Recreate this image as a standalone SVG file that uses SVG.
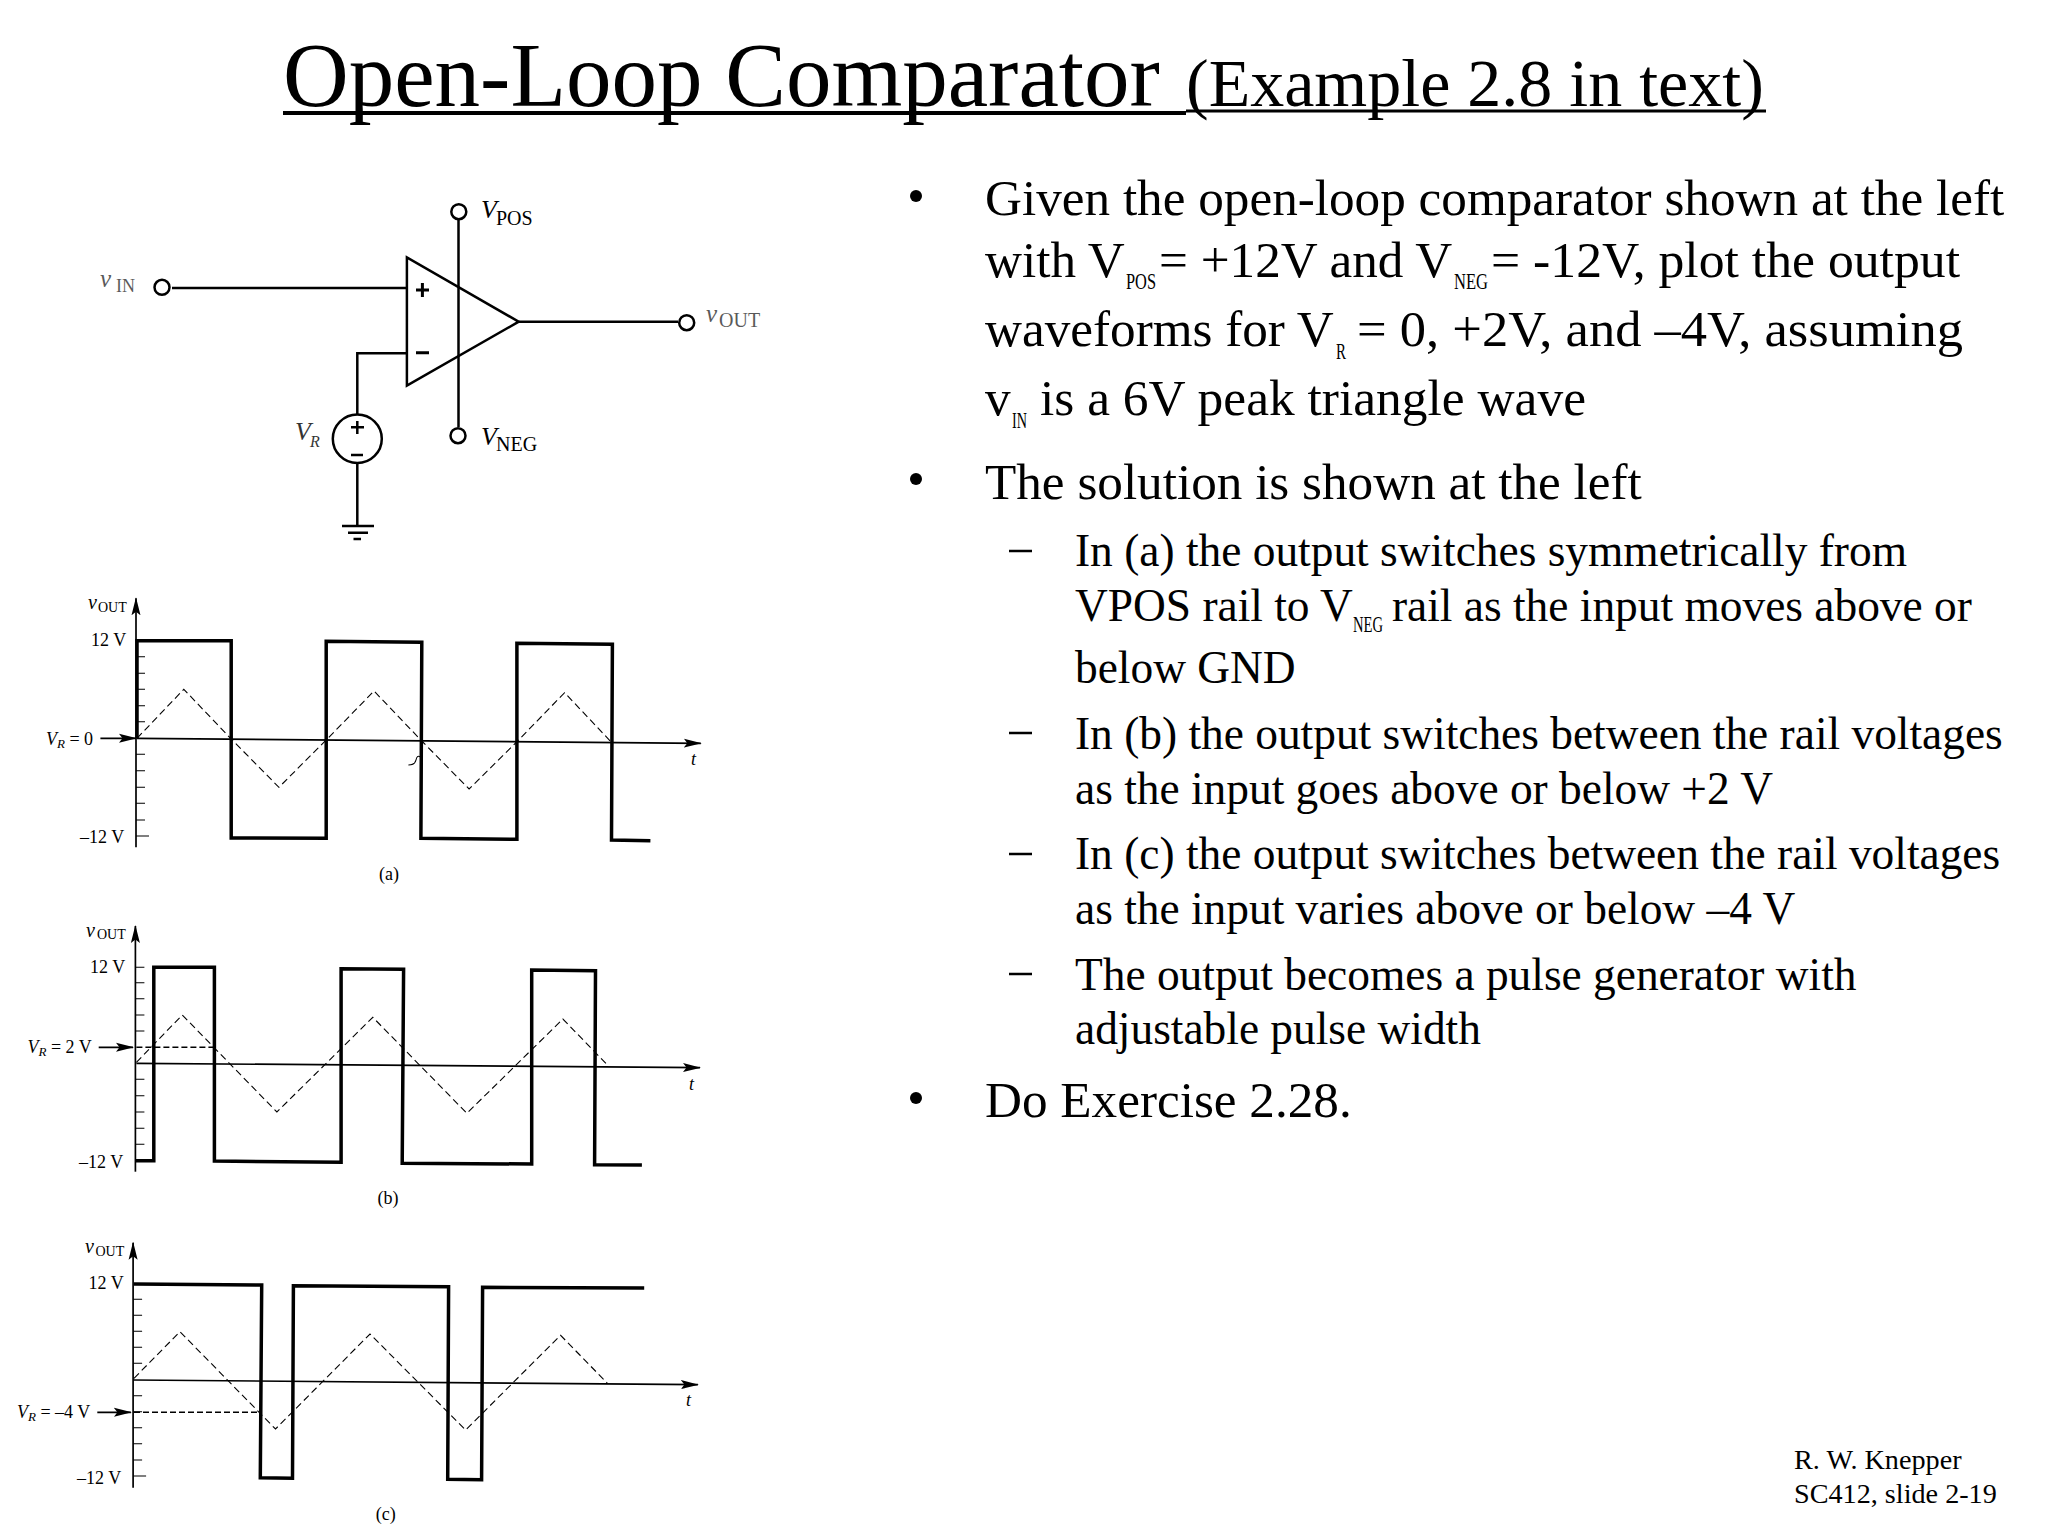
<svg xmlns="http://www.w3.org/2000/svg" width="2048" height="1536" viewBox="0 0 2048 1536">
<style>
text{font-family:"Liberation Serif","Times New Roman",serif;fill:#000}
.b{font-size:51.2px}.s{font-size:45.4px}.u{font-size:24px}
.lab{font-size:18px}.it{font-style:italic}.f{font-size:28.2px}
.w{fill:none;stroke:#000;stroke-width:3.5;stroke-linejoin:miter}
.ax{fill:none;stroke:#000;stroke-width:1.7}
.tk{fill:none;stroke:#000;stroke-width:1.1}
.tr{fill:none;stroke:#000;stroke-width:1.1;stroke-dasharray:7 4}
.vr{fill:none;stroke:#000;stroke-width:1.5;stroke-dasharray:6 3}
.c{fill:none;stroke:#000;stroke-width:2.5}
.t{fill:#fff;stroke:#000;stroke-width:2.5}
</style>
<defs>
<marker id="ar" markerUnits="userSpaceOnUse" markerWidth="18" markerHeight="10" refX="17" refY="5" orient="auto"><path d="M0 0.5L18 5L0 9.5L3.5 5z" fill="#000"/></marker>
</defs>
<rect width="2048" height="1536" fill="#fff"/>
<g id="title">
<text x="283" y="106" font-size="91">Open-Loop Comparator<tspan x="1186" font-size="68">(Example 2.8 in text)</tspan></text>
<path stroke="#000" stroke-width="4.2" d="M283 113H1186"/>
<path stroke="#000" stroke-width="3" d="M1186 111H1766"/>
</g>
<g id="circuit">
<g id="connectors">
<path class="c" d="M458.5 220V427M172 288H407M518.7 321.7H678M407 353.3H357.3V415M357.3 463V526M342 526H374M348 532.7H368M353.5 539H361"/>
</g>
<g id="opamp">
<path class="c" d="M406.9 257.3V385.7L518.7 321.7z"/>
<path class="c" style="stroke-width:3" d="M416 290H429M422.4 283V297M416 352.7H429"/>
</g>
<g id="vpos"><circle class="t" cx="458.8" cy="211.7" r="7.5"/><text x="481" y="218.3" font-size="26"><tspan class="it">V</tspan><tspan x="496" y="224.5" font-size="20">POS</tspan></text></g>
<g id="vneg"><circle class="t" cx="458" cy="435.7" r="7.5"/><text x="481" y="445" font-size="26"><tspan class="it">V</tspan><tspan x="496" y="451" font-size="20">NEG</tspan></text></g>
<g id="vin"><circle class="t" cx="162" cy="287.3" r="7.5"/><text x="100" y="286.7" font-size="25" opacity=".65"><tspan class="it">v</tspan><tspan x="116" y="291.7" font-size="18">IN</tspan></text></g>
<g id="vout"><circle class="t" cx="686.7" cy="322.7" r="7.5"/><text x="706" y="321.7" font-size="25" opacity=".65"><tspan class="it">v</tspan><tspan x="719" y="327.3" font-size="20">OUT</tspan></text></g>
<g id="vr"><ellipse class="c" cx="357.3" cy="438.7" rx="24.5" ry="24.3"/><path class="c" d="M351 427.3H364M357.3 421V434M351 455H363"/><text x="295" y="440" font-size="26" opacity=".8"><tspan class="it">V</tspan><tspan class="it" x="310" y="447" font-size="16">R</tspan></text></g>
</g>
<g id="plot-a">
<path class="tk" d="M136 656.7h9M136 673.3h9M136 689.3h9M136 705.7h9M136 721.7h9M136 754.3h9M136 770.7h9M136 787.3h9M136 803.3h9M136 820h9M136 836h13"/>
<path class="ax" d="M136 847.3V598.3" marker-end="url(#ar)"/>
<path class="ax" d="M137 738.3L700.8 743.3" marker-end="url(#ar)"/>
<path class="ax" d="M100.4 738.3H136" marker-end="url(#ar)"/>
<path class="tr" d="M137 738.3L183.8 689.3L231.2 739L278.9 787.3L326.2 740L374 691L421.8 741L469.1 789L516.9 741.7L564.6 692.7L611.5 742.3"/>
<path class="w" d="M137 738.3V640.7H231.2V838L326.2 838.3V641.3L421.8 642.3L420.9 838.3L516.9 839.3V643.3L612.4 644.3L611.5 840L650.4 840.7"/>
<path class="tk" d="M408.4 765Q415 765 416 760T420 756.7"/>
<text x="88" y="609.3" font-size="20"><tspan class="it">v</tspan><tspan x="98" y="611.7" font-size="14">OUT</tspan></text>
<text class="lab" x="91" y="645.7">12 V</text><text class="lab" x="80" y="843.3">–12 V</text>
<text x="46" y="745" font-size="18"><tspan class="it">V</tspan><tspan class="it" font-size="13" dy="3">R</tspan><tspan dy="-3"> = 0</tspan></text>
<text class="it lab" x="691" y="765">t</text>
<text class="lab" x="389" y="880" text-anchor="middle">(a)</text>
</g>
<g id="plot-b">
<path class="tk" d="M135.4 967.3h9M135.4 982.7h9M135.4 998.7h9M135.4 1015h9M135.4 1031h9M135.4 1079.3h9M135.4 1095.7h9M135.4 1112h9M135.4 1128.3h9M135.4 1144.3h9"/>
<path class="ax" d="M135.4 1171.7V926" marker-end="url(#ar)"/>
<path class="ax" d="M136.4 1063.3L700 1067.7" marker-end="url(#ar)"/>
<path class="ax" d="M98.7 1047.3H133" marker-end="url(#ar)"/>
<path class="vr" d="M136.4 1047.3H213.5"/>
<path class="tr" d="M136.4 1062.3L182.3 1015L276.9 1112L372.8 1017.3L466.9 1113.3L562.9 1019L608.4 1066"/>
<path class="w" d="M135.4 1160.7H153.8V967.3H214.4V1161L341.1 1162.3V968.7L403.6 969.3L402.2 1163.3L531.7 1164V970L595.5 970.7L594.6 1164.7L641.9 1165"/>
<text x="86" y="937.3" font-size="20"><tspan class="it">v</tspan><tspan x="97" y="939.3" font-size="14">OUT</tspan></text>
<text class="lab" x="90" y="972.7">12 V</text><text class="lab" x="79" y="1167.7">–12 V</text>
<text x="27.5" y="1053.3" font-size="18"><tspan class="it">V</tspan><tspan class="it" font-size="13" dy="3">R</tspan><tspan dy="-3"> = 2 V</tspan></text>
<text class="it lab" x="689" y="1090">t</text>
<text class="lab" x="388" y="1204" text-anchor="middle">(b)</text>
</g>
<g id="plot-c">
<path class="tk" d="M133.1 1299.3h9M133.1 1315.3h9M133.1 1331.3h9M133.1 1347.3h9M133.1 1363.3h9M133.1 1395.7h9M133.1 1411.7h9M133.1 1427.7h9M133.1 1443.7h9M133.1 1460h9M133.1 1476h13"/>
<path class="ax" d="M133.1 1487.7V1242.7" marker-end="url(#ar)"/>
<path class="ax" d="M133.1 1380L697.9 1384.7" marker-end="url(#ar)"/>
<path class="ax" d="M97.3 1412.3H130.9" marker-end="url(#ar)"/>
<path class="vr" d="M134 1412.3H259.4"/>
<path class="tr" d="M134 1378.3L180 1331.7L275.5 1429L370 1334L465.6 1430L560.6 1335.3L607.4 1383.3"/>
<path class="w" d="M134 1284L261.7 1285L260.3 1477.7L292.5 1478.3L293.4 1285.7L448.6 1286.7L447.7 1479.3L481.6 1479.7L482.6 1287.3L644.2 1288"/>
<text x="85" y="1253.3" font-size="20"><tspan class="it">v</tspan><tspan x="95.5" y="1256" font-size="14">OUT</tspan></text>
<text class="lab" x="88.5" y="1289.3">12 V</text><text class="lab" x="77" y="1484">–12 V</text>
<text x="17" y="1418.3" font-size="18"><tspan class="it">V</tspan><tspan class="it" font-size="13" dy="3">R</tspan><tspan dy="-3"> = –4 V</tspan></text>
<text class="it lab" x="686" y="1406">t</text>
<text class="lab" x="385.7" y="1520" text-anchor="middle">(c)</text>
</g>
<g id="body">
<circle cx="916" cy="196" r="6"/><circle cx="916" cy="479" r="6"/><circle cx="916" cy="1098" r="6"/>
<path stroke="#000" stroke-width="2.4" d="M1009 551H1032M1009 733H1032M1009 854H1032M1009 974H1032"/>
<text class="b" x="985" y="215">Given the open-loop comparator shown at the left</text>
<text class="b" x="985" y="277">with V<tspan class="u" x="1126" y="289" textLength="30" lengthAdjust="spacingAndGlyphs">POS</tspan><tspan x="1159" y="277">= +12V and V</tspan><tspan class="u" x="1454" y="289" textLength="34" lengthAdjust="spacingAndGlyphs">NEG</tspan><tspan x="1491" y="277" textLength="469" lengthAdjust="spacingAndGlyphs">= -12V, plot the output</tspan></text>
<text class="b" x="985" y="346">waveforms for V<tspan class="u" x="1336" y="359" textLength="10" lengthAdjust="spacingAndGlyphs">R</tspan><tspan x="1357" y="346" textLength="606" lengthAdjust="spacingAndGlyphs">= 0, +2V, and –4V, assuming</tspan></text>
<text class="b" x="985" y="415">v<tspan class="u" x="1012" y="428" textLength="15" lengthAdjust="spacingAndGlyphs">IN</tspan><tspan x="1040" y="415" textLength="546" lengthAdjust="spacingAndGlyphs">is a 6V peak triangle wave</tspan></text>
<text class="b" x="985" y="499">The solution is shown at the left</text>
<text class="s" x="1075" y="566">In (a) the output switches symmetrically from</text>
<text class="s" x="1075" y="621">VPOS rail to V<tspan class="u" x="1353" y="632" textLength="30" lengthAdjust="spacingAndGlyphs">NEG</tspan><tspan x="1392" y="621">rail as the input moves above or</tspan></text>
<text class="s" x="1075" y="683">below GND</text>
<text class="s" x="1075" y="749">In (b) the output switches between the rail voltages</text>
<text class="s" x="1075" y="804">as the input goes above or below +2 V</text>
<text class="s" x="1075" y="869">In (c) the output switches between the rail voltages</text>
<text class="s" x="1075" y="924">as the input varies above or below –4 V</text>
<text class="s" x="1075" y="990">The output becomes a pulse generator with</text>
<text class="s" x="1075" y="1044">adjustable pulse width</text>
<text class="b" x="985" y="1117">Do Exercise 2.28.</text>
</g>
<g id="footer">
<text class="f" x="1794" y="1469">R. W. Knepper</text>
<text class="f" x="1794" y="1503">SC412, slide 2-19</text>
</g>
</svg>
